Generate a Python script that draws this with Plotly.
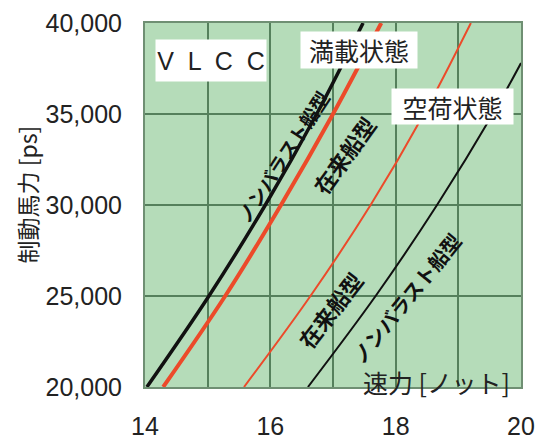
import plotly.graph_objects as go

# ---- data ----
power_levels = [20000, 25000, 30000, 35000, 40000]          # ps
nb_full_speed = [14.03, 15.02, 15.92, 16.74, 17.48]          # ノンバラスト船型 満載
conv_full_speed = [14.29, 15.28, 16.17, 17.00, 17.77]        # 在来船型 満載
conv_ballast_speed = [15.58, 16.64, 17.60, 18.45, 19.20]     # 在来船型 空荷
nb_ballast_power = [20000, 25000, 30000, 35000, 37800]
nb_ballast_speed = [16.60, 17.68, 18.66, 19.55, 20.00]       # ノンバラスト船型 空荷

x_ticks = [14, 16, 18, 20]
y_ticks = [20000, 25000, 30000, 35000, 40000]

BG = "#b5dcb9"
GRID = "#55805c"
RED = "#ec4a2a"
CJK = "Noto Sans CJK JP"

fig = go.Figure()

fig.add_trace(go.Scatter(x=conv_ballast_speed, y=power_levels, mode="lines",
                         line=dict(color=RED, width=2, shape="spline"), hoverinfo="skip"))
fig.add_trace(go.Scatter(x=nb_ballast_speed, y=nb_ballast_power, mode="lines",
                         line=dict(color="#111111", width=2, shape="spline"), hoverinfo="skip"))
fig.add_trace(go.Scatter(x=conv_full_speed, y=power_levels, mode="lines",
                         line=dict(color=RED, width=4, shape="spline"), hoverinfo="skip"))
fig.add_trace(go.Scatter(x=nb_full_speed, y=power_levels, mode="lines",
                         line=dict(color="#111111", width=3.5, shape="spline"), hoverinfo="skip"))

def box(text, x, y, w, h, size, family=CJK):
    return dict(text=text, xref="paper", yref="paper", x=x, y=y,
                xanchor="center", yanchor="middle", showarrow=False,
                bgcolor="white", width=w, height=h, borderpad=0,
                font=dict(family=family, size=size, color="#222222"))

def rot(text, x, y, angle, size):
    return dict(text="<b>" + text + "</b>", xref="paper", yref="paper", x=x, y=y,
                xanchor="center", yanchor="middle", showarrow=False,
                textangle=angle,
                font=dict(family=CJK, size=size, color="#111111"))

annotations = [
    box("V  L  C  C", 0.1753, 0.897, 110, 41, 25, "Liberation Sans, Arial"),
    box("満載状態", 0.568, 0.926, 116, 36, 25),
    box("空荷状態", 0.819, 0.771, 121, 35, 25),
    dict(text="速力 [ノット]", xref="paper", yref="paper", x=0.774, y=0.0124,
         xanchor="center", yanchor="middle", showarrow=False,
         font=dict(family=CJK, size=25, color="#222222")),
    dict(text="制動馬力 [ps]", xref="paper", yref="paper", x=-0.313, y=0.53,
         xanchor="center", yanchor="middle", showarrow=False, textangle=-90,
         font=dict(family=CJK, size=23, color="#222222")),
    rot("ノンバラスト船型", 0.366, 0.632, -57, 19),
    rot("在来船型", 0.5285, 0.637, -54, 22),
    rot("在来船型", 0.491, 0.2115, -52, 22),
    rot("ノンバラスト船型", 0.693, 0.2445, -51, 20),
]

fig.update_layout(
    width=543, height=439,
    margin=dict(l=145, r=21.5, t=23, b=52, autoexpand=False),
    paper_bgcolor="white", plot_bgcolor=BG,
    showlegend=False,
    annotations=annotations,
    xaxis=dict(range=[14, 20], tickvals=x_ticks, showgrid=True, gridcolor=GRID, gridwidth=1.5,
               minor=dict(dtick=1, tick0=14, showgrid=True, gridcolor=GRID, gridwidth=1.5),
               showline=True, linecolor="#6f8f73", linewidth=2, mirror=True,
               ticks="", ticklabelstandoff=16, zeroline=False, automargin=False,
               tickfont=dict(family="Liberation Sans, Arial", size=25, color="#222222")),
    yaxis=dict(range=[20000, 40000], tickvals=y_ticks, tickformat=",",
               showgrid=True, gridcolor=GRID, gridwidth=1.5,
               showline=True, linecolor="#6f8f73", linewidth=2, mirror=True,
               ticks="", ticklabelstandoff=16, zeroline=False, automargin=False,
               tickfont=dict(family="Liberation Sans, Arial", size=25, color="#222222")),
)

fig.write_html(
    "out.html",
    config={"displayModeBar": False},
    post_script="document.body.style.margin='0';document.body.style.padding='0';"
                "document.body.style.overflow='hidden';",
)
